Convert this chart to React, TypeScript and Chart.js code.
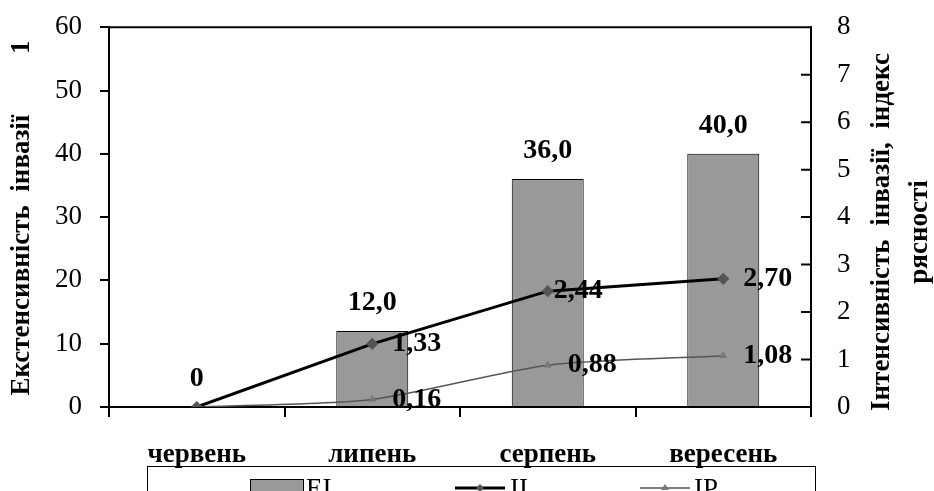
import React, { useEffect, useRef } from "react";
import { Chart, registerables } from "chart.js";

Chart.register(...registerables);

const categories = ["червень", "липень", "серпень", "вересень"];
const eiValues = [0, 12.0, 36.0, 40.0];
const iiValues = [0, 1.33, 2.44, 2.7];
const ipValues = [0, 0.16, 0.88, 1.08];
const seriesNames = ["EI", "II", "IP"];
const leftTitle = "Екстенсивність  інвазії         1";
const rightTitle1 = "Інтенсивність  інвазії,  індекс";
const rightTitle2 = "рясності";

const FONT = '"Liberation Serif", "DejaVu Serif", serif';
const SHIFT = 15; // canvas starts this many px above the page top
const LABEL_NUDGE: Record<string, number> = { "1-2": -14 };

const fmt = (v: number, d: number) => v.toFixed(d).replace(".", ",");

const labelsPlugin = {
  id: "valueLabels",
  afterDatasetsDraw(chart: any) {
    const ctx = chart.ctx;
    ctx.save();
    ctx.font = `bold 28px ${FONT}`;
    ctx.fillStyle = "#000";
    chart.data.datasets.forEach((ds: any, i: number) => {
      const meta = chart.getDatasetMeta(i);
      meta.data.forEach((el: any, j: number) => {
        const v = ds.data[j] as number;
        if (ds.type === "bar") {
          ctx.textAlign = "center";
          ctx.textBaseline = "middle";
          ctx.fillText(v === 0 ? "0" : fmt(v, 1), el.x, el.y - 28);
        } else {
          if (v === 0) return;
          ctx.textAlign = "left";
          ctx.textBaseline = "middle";
          const nudge = LABEL_NUDGE[`${i}-${j}`] || 0;
          ctx.fillText(fmt(v, 2), el.x + 20 + nudge, el.y);
        }
      });
    });
    ctx.restore();
  },
};

const framePlugin = {
  id: "frame",
  afterDraw(chart: any) {
    const ctx = chart.ctx;
    const { left, right, top } = chart.chartArea;
    const y1 = chart.scales.y1;
    ctx.save();
    ctx.strokeStyle = "#000";
    ctx.lineWidth = 2;
    ctx.beginPath();
    ctx.moveTo(left, top);
    ctx.lineTo(right, top);
    y1.ticks.forEach((t: any) => {
      const py = y1.getPixelForValue(t.value);
      ctx.moveTo(right - 10, py);
      ctx.lineTo(right, py);
    });
    ctx.stroke();

    // page coordinates from here on
    ctx.translate(0, SHIFT);

    // axis titles
    ctx.fillStyle = "#000";
    ctx.font = `bold 27px ${FONT}`;
    ctx.textAlign = "center";
    ctx.textBaseline = "middle";
    ctx.save();
    ctx.translate(22, 218);
    ctx.rotate(-Math.PI / 2);
    ctx.fillText(leftTitle, 0, 0);
    ctx.restore();
    ctx.save();
    ctx.translate(882, 232);
    ctx.rotate(-Math.PI / 2);
    ctx.fillText(rightTitle1, 0, 0);
    ctx.fillText(rightTitle2, 0, 38);
    ctx.restore();

    // legend
    ctx.lineWidth = 1;
    ctx.strokeRect(147.5, 466.5, 668, 60);
    const ds = chart.data.datasets;
    ctx.font = `27px ${FONT}`;
    ctx.textAlign = "left";
    ctx.textBaseline = "top";
    // EI
    ctx.fillStyle = ds[0].backgroundColor;
    ctx.fillRect(250, 479, 53, 16);
    ctx.strokeStyle = "#000";
    ctx.strokeRect(250.5, 479.5, 53, 16);
    ctx.fillStyle = "#000";
    ctx.fillText(ds[0].label, 306, 476);
    // II
    ctx.strokeStyle = ds[1].borderColor;
    ctx.lineWidth = 3;
    ctx.beginPath();
    ctx.moveTo(455, 488);
    ctx.lineTo(505, 488);
    ctx.stroke();
    ctx.fillStyle = ds[1].pointBackgroundColor;
    ctx.beginPath();
    ctx.moveTo(480, 484);
    ctx.lineTo(484, 488);
    ctx.lineTo(480, 492);
    ctx.lineTo(476, 488);
    ctx.closePath();
    ctx.fill();
    ctx.fillStyle = "#000";
    ctx.fillText(ds[1].label, 510, 476);
    // IP
    ctx.strokeStyle = ds[2].borderColor;
    ctx.lineWidth = 1.5;
    ctx.beginPath();
    ctx.moveTo(640, 488);
    ctx.lineTo(690, 488);
    ctx.stroke();
    ctx.fillStyle = ds[2].pointBackgroundColor;
    ctx.beginPath();
    ctx.moveTo(665, 484);
    ctx.lineTo(669, 490);
    ctx.lineTo(661, 490);
    ctx.closePath();
    ctx.fill();
    ctx.fillStyle = "#000";
    ctx.fillText(ds[2].label, 694, 476);
    ctx.restore();
  },
};

export default function App() {
  const ref = useRef<HTMLCanvasElement>(null);
  useEffect(() => {
    const canvas = ref.current!;
    const chart = new Chart(canvas, {
      type: "bar",
      data: {
        labels: categories,
        datasets: [
          {
            type: "bar",
            label: seriesNames[0],
            data: eiValues,
            backgroundColor: "#999999",
            borderColor: "#000000",
            borderWidth: 1,
            barPercentage: 0.41,
            categoryPercentage: 1,
            yAxisID: "y",
            order: 3,
          },
          {
            type: "line",
            label: seriesNames[1],
            data: iiValues,
            borderColor: "#000000",
            borderWidth: 3,
            pointStyle: "rectRot",
            pointRadius: 4,
            pointBackgroundColor: "#555555",
            pointBorderColor: "#555555",
            yAxisID: "y1",
            tension: 0,
            order: 1,
          },
          {
            type: "line",
            label: seriesNames[2],
            data: ipValues,
            borderColor: "#555555",
            borderWidth: 1.5,
            pointStyle: "triangle",
            pointRadius: 3,
            pointBackgroundColor: "#777777",
            pointBorderColor: "#777777",
            yAxisID: "y1",
            tension: 0.25,
            order: 2,
          },
        ] as any,
      },
      options: {
        responsive: false,
        animation: false,
        devicePixelRatio: 1,
        layout: { padding: { top: 12, left: 0, right: 0, bottom: 0 } },
        plugins: {
          legend: { display: false },
          tooltip: { enabled: false },
        },
        scales: {
          x: {
            grid: {
              offset: true,
              drawOnChartArea: false,
              drawTicks: true,
              tickLength: 10,
              color: "#000",
              lineWidth: 2,
            },
            border: { display: true, color: "#000", width: 2 },
            ticks: {
              color: "#000",
              padding: 22,
              maxRotation: 0,
              font: { family: FONT, size: 27, weight: "bold" },
            },
            afterFit: (s: any) => {
              s.height = 84;
            },
          },
          y: {
            position: "left",
            min: 0,
            max: 60,
            grid: {
              drawOnChartArea: false,
              drawTicks: true,
              tickLength: 9,
              color: "#000",
              lineWidth: 2,
            },
            border: { display: true, color: "#000", width: 2 },
            ticks: {
              stepSize: 10,
              color: "#000",
              padding: 18,
              font: { family: FONT, size: 27 },
            },
            afterFit: (s: any) => {
              s.width = 109;
            },
          },
          y1: {
            position: "right",
            min: 0,
            max: 8,
            grid: { drawOnChartArea: false, drawTicks: false },
            border: { display: true, color: "#000", width: 2 },
            ticks: {
              stepSize: 1,
              color: "#000",
              padding: 26,
              font: { family: FONT, size: 27 },
            },
            afterFit: (s: any) => {
              s.width = 123;
            },
          },
        },
      } as any,
      plugins: [labelsPlugin, framePlugin],
    });
    return () => chart.destroy();
  }, []);
  return (
    <div style={{ position: "absolute", left: 0, top: 0, width: 934, height: 491, background: "#fff", overflow: "hidden" }}>
      <canvas
        ref={ref}
        width={934}
        height={491 + SHIFT}
        style={{ width: 934, height: 491 + SHIFT, display: "block", position: "absolute", left: 0, top: -SHIFT }}
      />
    </div>
  );
}
